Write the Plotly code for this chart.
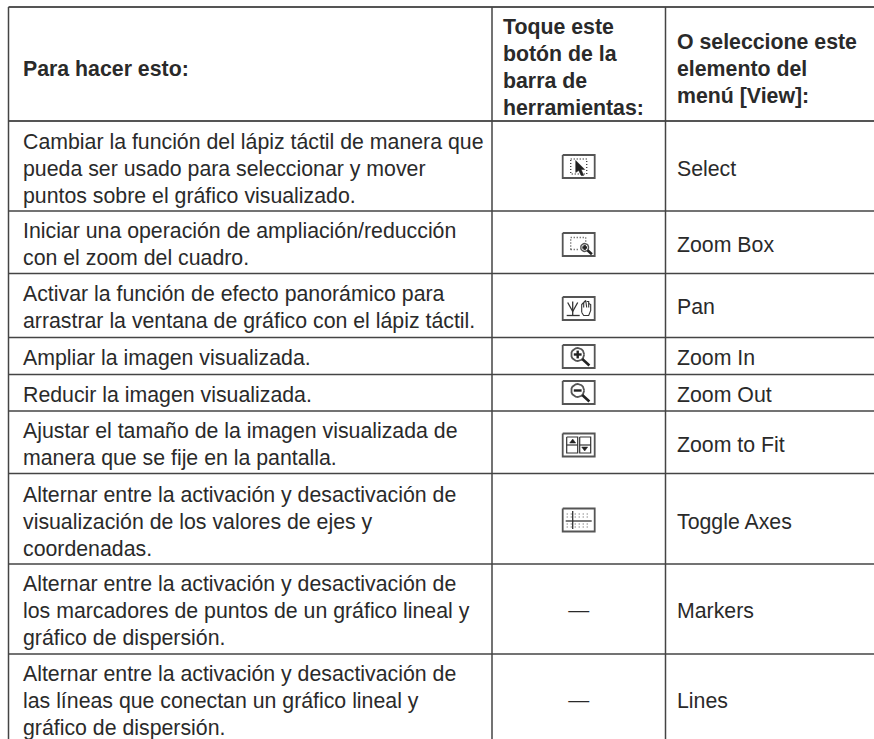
import plotly.graph_objects as go
import math

# Table content
headers = ["Para hacer esto:",
           "Toque este\nbotón de la\nbarra de\nherramientas:",
           "O seleccione este\nelemento del\nmenú [View]:"]
actions = [
    "Cambiar la función del lápiz táctil de manera que\npueda ser usado para seleccionar y mover\npuntos sobre el gráfico visualizado.",
    "Iniciar una operación de ampliación/reducción\ncon el zoom del cuadro.",
    "Activar la función de efecto panorámico para\narrastrar la ventana de gráfico con el lápiz táctil.",
    "Ampliar la imagen visualizada.",
    "Reducir la imagen visualizada.",
    "Ajustar el tamaño de la imagen visualizada de\nmanera que se fije en la pantalla.",
    "Alternar entre la activación y desactivación de\nvisualización de los valores de ejes y\ncoordenadas.",
    "Alternar entre la activación y desactivación de\nlos marcadores de puntos de un gráfico lineal y\ngráfico de dispersión.",
    "Alternar entre la activación y desactivación de\nlas líneas que conectan un gráfico lineal y\ngráfico de dispersión.",
]
menu_items = ["Select", "Zoom Box", "Pan", "Zoom In", "Zoom Out", "Zoom to Fit",
              "Toggle Axes", "Markers", "Lines"]
icons = ["select", "zoombox", "pan", "zoomin", "zoomout", "fit", "axes", None, None]

# Table grid
row_edges = [7, 121, 211, 273.5, 337.5, 374.5, 411, 473.5, 564, 654, 739]
row_text_center = [170.5, 246.5, 309, 360, 397, 446.5, 524, 612.5, 702.5]
icon_center = [166.5, 244.5, 308.5, 356.5, 392.5, 445, 520, 611, 701]
col_edges = [8.5, 492, 665.5, 874]
col_text_x = [23, 503, 677]
icon_x = 578.7
line_pitch = 27
FONT = "Liberation Sans"
TEXT = "#2a2a2a"
GRID = "#444444"
SIZE = 21.3

fig = go.Figure()


def lines(segs, color="#444444", width=1.0, dash=None):
    xs, ys = [], []
    for s in segs:
        for p in s:
            xs.append(p[0]); ys.append(p[1])
        xs.append(None); ys.append(None)
    fig.add_trace(go.Scatter(x=xs, y=ys, mode="lines", hoverinfo="skip", showlegend=False,
                             line=dict(color=color, width=width, dash=dash)))


def fill(pts, color="#222222"):
    fig.add_trace(go.Scatter(x=[p[0] for p in pts] + [pts[0][0]], y=[p[1] for p in pts] + [pts[0][1]],
                             mode="lines", fill="toself", fillcolor=color, hoverinfo="skip", showlegend=False,
                             line=dict(color=color, width=0.5)))


def text_block(x, cy, block, size=SIZE, bold=False, center=False):
    parts = block.split("\n")
    ys = [cy + (i - (len(parts) - 1) / 2) * line_pitch for i in range(len(parts))]
    fig.add_trace(go.Scatter(x=[x] * len(parts), y=ys, mode="text",
                             text=[f"<b>{p}</b>" if bold else p for p in parts],
                             textposition="middle center" if center else "middle right",
                             hoverinfo="skip", showlegend=False,
                             textfont=dict(family=FONT, size=size, color=TEXT)))


def rect(cx, cy, x0, y0, x1, y1):
    return [(cx + x0, cy + y0), (cx + x1, cy + y0), (cx + x1, cy + y1), (cx + x0, cy + y1), (cx + x0, cy + y0)]


def circle(cx, cy, r):
    return [(cx + r * math.cos(i * math.pi / 10), cy + r * math.sin(i * math.pi / 10)) for i in range(21)]


def magnifier(cx, cy, r, plus=True, minus=True, width=1.8):
    lines([circle(cx, cy, r)], "#555555", width)
    if minus:
        lines([[(cx - r * .6, cy), (cx + r * .6, cy)]], "#222222", 2.4)
    if plus:
        lines([[(cx, cy - r * .6), (cx, cy + r * .6)]], "#222222", 2.4)
    lines([[(cx + r * .7, cy + r * .7), (cx + r * 1.8, cy + r * 1.7)]], "#222222", 2.6)


def draw_icon(kind, cx, cy):
    lines([rect(cx, cy, -16, -11.5, 16, 11.5)], "#555555", 1.8)
    if kind == "select":
        lines([rect(cx, cy, -8, -7.5, 8, 7.5)], "#444444", 1.4, "1px,2px")
        fill([(cx - 3, cy - 6), (cx + 6, cy + 3), (cx + 2.5, cy + 3), (cx + 5, cy + 9),
              (cx + 2.5, cy + 9), (cx, cy + 4), (cx - 3, cy + 6)])
    elif kind == "zoombox":
        lines([[(cx - 8, cy + 5), (cx - 8, cy - 7), (cx + 7, cy - 7), (cx + 7, cy - 1)],
               [(cx - 8, cy + 5), (cx - 1, cy + 5)]], "#444444", 1.4, "1px,2px")
        magnifier(cx + 6, cy + 3, 4, width=1.4)
    elif kind == "pan":
        lines([[(cx - 12, cy + 7), (cx + 1, cy + 7)], [(cx - 6, cy - 7), (cx - 6, cy + 7)],
               [(cx - 11, cy - 6), (cx - 6, cy + 3), (cx - 1, cy - 6)]], "#333333", 1.3)
        lines([[(cx + 3, cy + 4), (cx + 3, cy - 4), (cx + 5, cy - 6), (cx + 5, cy - 1)],
               [(cx + 5, cy - 6), (cx + 7, cy - 8), (cx + 8, cy - 1)],
               [(cx + 8, cy - 7), (cx + 10, cy - 7), (cx + 10, cy - 1)],
               [(cx + 10, cy - 5), (cx + 12, cy - 4), (cx + 12, cy + 2), (cx + 10, cy + 7), (cx + 5, cy + 7), (cx + 3, cy + 4)]],
              "#333333", 1.1)
    elif kind == "zoomin":
        magnifier(cx - 1, cy - 2, 6.5)
    elif kind == "zoomout":
        magnifier(cx - 1, cy - 2, 6.5, plus=False)
    elif kind == "fit":
        lines([rect(cx, cy, -12, -8, -1, 8), rect(cx, cy, 1, -8, 12, 8),
               [(cx - 12, cy), (cx - 1, cy)], [(cx + 1, cy), (cx + 12, cy)]], "#333333", 1.2)
        fill([(cx - 9, cy - 2), (cx - 6, cy - 6), (cx - 3, cy - 2)])
        fill([(cx + 3, cy + 2), (cx + 6, cy + 6), (cx + 9, cy + 2)])
    elif kind == "axes":
        for dy in (-6, -3, 4, 7):
            lines([[(cx - 12, cy + dy), (cx + 12, cy + dy)]], "#555555", 1.2, "1px,3px")
        lines([[(cx - 13, cy + 1), (cx + 13, cy + 1)], [(cx - 6, cy - 9), (cx - 6, cy + 9)]], "#333333", 1.3)


# Grid
for i, y in enumerate(row_edges[:-1]):
    lines([[(col_edges[0], y), (col_edges[-1], y)]], "#555555" if i < 2 else GRID, 2 if i < 2 else 1.5)
for x in col_edges[:-1]:
    lines([[(x, row_edges[0]), (x, row_edges[-1])]], GRID, 1.5)

# Header
header_center = [71, 69, 71]
for x, cy, h in zip(col_text_x, header_center, headers):
    text_block(x, cy, h, bold=True)

# Rows
for i, (a, m, ic) in enumerate(zip(actions, menu_items, icons)):
    text_block(col_text_x[0], row_text_center[i], a)
    text_block(col_text_x[2], row_text_center[i], m)
    if ic:
        draw_icon(ic, icon_x, icon_center[i])
    else:
        text_block(icon_x, icon_center[i] + 1, "—", size=21, center=True)

fig.update_layout(
    width=874, height=739, margin=dict(l=0, r=0, t=0, b=0),
    paper_bgcolor="white", plot_bgcolor="white", showlegend=False,
    xaxis=dict(range=[0, 874], visible=False, fixedrange=True),
    yaxis=dict(range=[739, 0], visible=False, fixedrange=True),
)
fig.write_html("out.html", config={"displayModeBar": False},
               post_script="document.body.style.margin='0';document.body.style.overflow='hidden';")
